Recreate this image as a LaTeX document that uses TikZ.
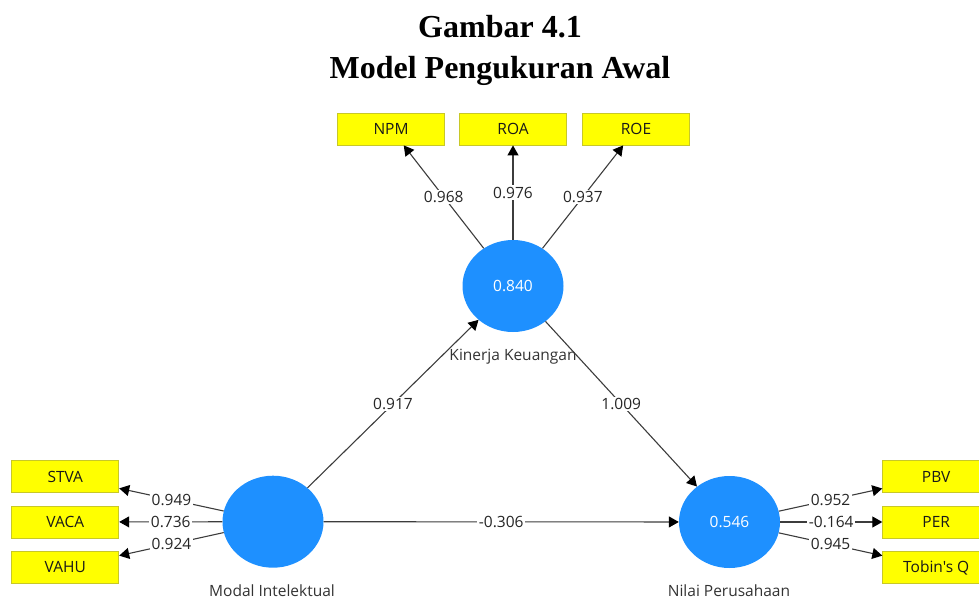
\documentclass[tikz,border=0pt]{standalone}
\usepackage{fontspec}
\setmainfont{Liberation Serif}
\newfontfamily\uifont{Open Sans}
\usetikzlibrary{shapes.geometric,arrows.meta}
\definecolor{lvblue}{RGB}{30,144,255}
\definecolor{indyellow}{RGB}{255,255,0}
\definecolor{indborder}{RGB}{200,200,40}
\definecolor{linegray}{RGB}{60,60,60}
\newcommand{\uisize}{\uifont\fontsize{15.5}{18}\selectfont}
\begin{document}
\begin{tikzpicture}[x=1pt,y=-1pt,
  heading/.style={font=\bfseries\fontsize{32}{38}\selectfont, inner sep=0},
  indicator/.style={draw=indborder, fill=indyellow, line width=0.8pt,
    minimum width=107pt, minimum height=32pt, inner sep=0,
    font=\uisize, text=black!90},
  latent/.style={ellipse, fill=lvblue, draw=none,
    minimum width=101pt, minimum height=92pt, inner sep=0,
    font=\uisize, text=white},
  lvname/.style={font=\uisize, text=black!80, inner sep=0},
  relpath/.style={draw=linegray, line width=1.1pt,
    -{Triangle[length=10pt,width=11pt,fill=black,color=black]}},
  coef/.style={fill=white, inner sep=1.5pt, font=\uisize, text=black!85}]

\clip (0,0) rectangle (979,599);

% title
\node[heading, anchor=base] (t1) at (500,38) {Gambar 4.1};
\node[heading, anchor=base] (t2) at (500,79) {Model Pengukuran Awal};

% latent variables
\node[latent] (kin) at (513,286) {0.840};
\node[latent] (mi)  at (273,521.7) {};
\node[latent] (nil) at (729.5,522) {0.546};

\node[lvname] (kinname) at (513,357) {Kinerja Keuangan};
\node[lvname] (miname)  at (272,591) {Modal Intelektual};
\node[lvname] (nilname) at (729,591) {Nilai Perusahaan};

% indicators
\node[indicator] (npm) at (391,129) {NPM};
\node[indicator] (roa) at (513,129) {ROA};
\node[indicator] (roe) at (636,129) {ROE};

\node[indicator] (stva) at (65.3,476.7) {STVA};
\node[indicator] (vaca) at (65.3,522)   {VACA};
\node[indicator] (vahu) at (65.3,567.5) {VAHU};

\node[indicator] (pbv)   at (936.2,476.7) {PBV};
\node[indicator] (per)   at (936.2,522)   {PER};
\node[indicator] (tobin) at (936.2,567.5) {Tobin's Q};

% outer loadings
\draw[relpath] (kin) -- node[coef] {0.968} (npm);
\draw[relpath] (kin) -- node[coef] {0.976} (roa);
\draw[relpath] (kin) -- node[coef] {0.937} (roe);

\draw[relpath] (mi) -- node[coef] {0.949} (stva);
\draw[relpath] (mi) -- node[coef] {0.736} (vaca);
\draw[relpath] (mi) -- node[coef] {0.924} (vahu);

\draw[relpath] (nil) -- node[coef] {0.952} (pbv);
\draw[relpath] (nil) -- node[coef] {-0.164} (per);
\draw[relpath] (nil) -- node[coef] {0.945} (tobin);

% path coefficients
\draw[relpath] (mi)  -- node[coef] {0.917} (kin);
\draw[relpath] (kin) -- node[coef] {1.009} (nil);
\draw[relpath] (mi)  -- node[coef] {-0.306} (nil);
\end{tikzpicture}
\end{document}
